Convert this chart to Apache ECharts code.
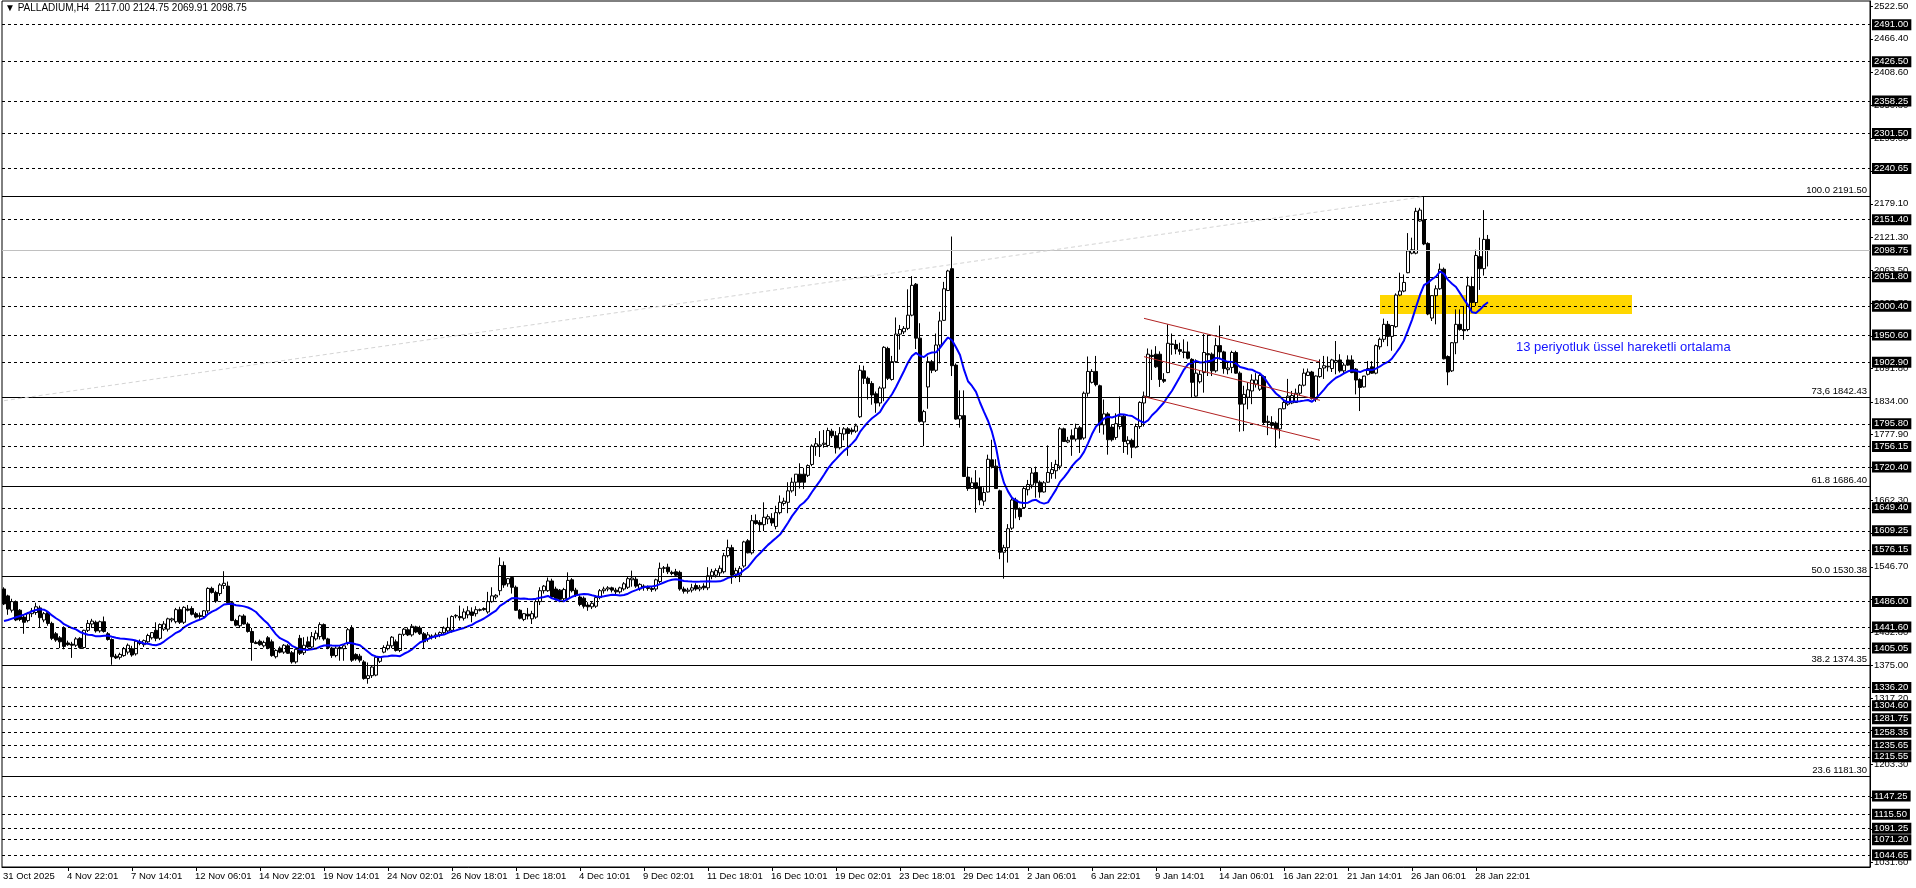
<!DOCTYPE html>
<html><head><meta charset="utf-8">
<script src="https://cdn.jsdelivr.net/npm/echarts@6/dist/echarts.min.js"></script>
<style>html,body{margin:0;padding:0;background:#fff;overflow:hidden}#c{width:1916px;height:888px}</style>
</head><body><div id="c"></div>
<script>
// ---- DATA (PALLADIUM, H4) ----
const opens=[
1508,1496,1471,1486,1471,1459,1453,1465,1467,1475,1454,1467,1448,1430,1423,1440,1414,1412,1410,1422,
1406,1436,1447,1450,1435,1451,1430,1420,1391,1389,1392,1398,1404,1395,1413,1411,1416,1423,1436,1422,
1438,1438,1454,1451,1472,1450,1473,1474,1465,1462,1460,1470,1509,1502,1500,1514,1513,1484,1453,1444,
1461,1447,1434,1415,1417,1409,1423,1416,1390,1405,1398,1409,1397,1381,1422,
1397,1416,1407,1421,1425,1446,1421,1405,1392,1406,1404,1413,1440,1394,1391,1381,1352,1357,1358,1382,
1398,1404,1409,1416,1401,1429,1437,1428,1442,1440,1430,1421,1425,1425,1428,1432,1435,1436,1461,1460,
1457,1463,1468,1465,1472,1474,1468,1486,1494,1505,1549,1517,1528,1511,1471,1455,1464,1456,1459,1486,
1505,1505,1522,1508,1506,1491,1491,1524,1506,1494,1492,1480,1477,1478,1493,
1505,1508,1510,1506,1503,1508,1511,1524,1525,1508,1513,1511,1509,1508,1521,1544,1546,1537,1538,1537,
1508,1504,1506,1514,1508,1513,1510,1531,1532,1536,1538,1566,1580,1534,1532,1548,1592,1571,1627,1624,
1620,1630,1631,1617,1641,1657,1659,1679,1694,1708,1708,1706,1725,1756,1757,1760,1758,1783,1775,1754,
1778,1787,1785,1783,1808,1888,1875,1866,1848,1832,1858,1927,1873,1904,1952,
1956,1962,1985,2039,1945,1799,1860,1904,1889,1933,1976,2028,2066,1898,1804,1810,1703,1683,1693,1686,
1661,1677,1733,1722,1679,1572,1580,1614,1663,1648,1650,1681,1689,1711,1694,1677,1694,1709,1714,1722,
1787,1764,1775,1769,1789,1771,1849,1868,1887,1862,1794,1813,1790,1772,1791,1809,1761,1767,1755,1791,
1832,1843,1915,1917,1917,1873,1885,1935,1934,1925,1921,1921,1908,1844,1869,
1885,1918,1917,1888,1932,1921,1890,1894,1920,1884,1830,1842,1853,1865,1856,1878,1798,1798,1797,1787,
1822,1830,1832,1833,1849,1863,1880,1886,1840,1878,1893,1895,1892,1903,1907,1888,1907,1907,1891,1873,
1860,1882,1895,1884,1930,1943,1969,1948,1965,2020,2027,2059,2093,2093,2149,2151,2110,1980,2019,2031,
2065,1913,1888,1937,1969,1960,1960,2035,2007,2087,2066,2117];
const highs=[
1511,1498,1491,1488,1473,1463,1468,1475,1484,1479,1468,1469,1451,1433,1426,1443,1418,1416,1424,1424,
1437,1454,1456,1453,1453,1460,1433,1422,1395,1397,1407,1413,1409,1418,1420,1420,1430,1433,1450,1448,
1452,1458,1458,1475,1477,1478,1480,1478,1468,1467,1471,1511,1512,1505,1518,1539,1521,1487,1456,1463,
1464,1450,1440,1418,1420,1418,1426,1420,1403,1408,1412,1412,1400,1405,1428,
1424,1425,1433,1436,1450,1448,1423,1407,1408,1409,1412,1440,1445,1396,1395,1384,1380,1375,1390,1391,
1410,1417,1426,1420,1430,1440,1441,1447,1444,1444,1433,1433,1429,1432,1434,1443,1458,1462,1464,1479,
1474,1478,1476,1478,1474,1476,1503,1511,1499,1563,1556,1527,1530,1514,1473,1466,1475,1470,1490,1511,
1515,1528,1526,1512,1508,1510,1537,1527,1510,1497,1495,1485,1486,1497,1508,
1512,1513,1512,1510,1512,1520,1530,1540,1529,1518,1516,1514,1512,1526,1554,1548,1552,1540,1543,1540,
1512,1510,1517,1518,1515,1518,1546,1543,1544,1549,1571,1594,1585,1545,1548,1592,1595,1637,1638,1628,
1659,1638,1640,1653,1671,1667,1694,1702,1708,1727,1719,1725,1760,1771,1783,1785,1789,1787,1783,1790,
1790,1790,1789,1796,1898,1897,1878,1870,1852,1861,1931,1930,1914,1981,1968,
1966,2030,2053,2041,1971,1820,1913,1907,1953,1991,2043,2064,2122,1901,1854,1854,1721,1702,1715,1702,
1685,1742,1768,1734,1681,1585,1621,1666,1667,1650,1686,1698,1719,1721,1697,1696,1758,1729,1733,1790,
1789,1773,1786,1796,1792,1852,1913,1891,1914,1864,1838,1816,1795,1814,1843,1812,1774,1770,1796,1835,
1852,1927,1925,1931,1922,1884,1969,1953,1942,1937,1943,1939,1910,1908,1889,
1952,1951,1920,1945,1967,1923,1902,1923,1923,1887,1862,1868,1882,1884,1884,1880,1810,1809,1800,1822,
1838,1874,1853,1857,1865,1892,1892,1888,1880,1908,1914,1913,1909,1940,1917,1902,1915,1915,1893,1875,
1878,1905,1905,1934,1946,1979,1975,1968,2023,2059,2056,2128,2120,2172,2172,2191.5,2112,2020,2037,2075,
2068,1915,1938,1995,1995,2001,2052,2052,2099,2120,2168,2124.75];
const lows=[
1480,1463,1467,1452,1452,1430,1450,1459,1463,1440,1450,1444,1419,1416,1405,1403,1409,1388,1407,1404,
1404,1433,1440,1432,1432,1432,1418,1376,1386,1385,1390,1394,1390,1392,1410,1407,1412,1420,1417,1419,
1435,1434,1450,1448,1447,1447,1469,1462,1457,1456,1456,1466,1500,1484,1496,1508,1481,1452,1443,1440,
1446,1432,1383,1412,1409,1406,1403,1390,1387,1396,1395,1395,1378,1378,1393,
1393,1405,1404,1418,1420,1418,1403,1388,1389,1383,1383,1410,1381,1383,1380,1350,1343,1353,1356,1379,
1396,1401,1405,1399,1398,1426,1426,1425,1431,1428,1404,1416,1420,1421,1424,1429,1430,1432,1457,1453,
1453,1457,1450,1460,1469,1470,1465,1484,1490,1497,1510,1512,1500,1470,1455,1452,1455,1447,1456,1480,
1500,1503,1492,1488,1485,1488,1488,1502,1494,1478,1474,1470,1473,1475,1490,
1500,1504,1502,1498,1500,1505,1508,1512,1510,1505,1505,1505,1503,1504,1518,1536,1534,1532,1530,1505,
1500,1500,1502,1505,1504,1506,1506,1525,1528,1530,1535,1563,1517,1527,1520,1545,1570,1568,1620,1609,
1609,1621,1618,1612,1638,1653,1640,1676,1670,1683,1682,1703,1722,1740,1738,1754,1755,1771,1744,1751,
1767,1740,1777,1780,1806,1865,1838,1829,1815,1826,1835,1872,1871,1902,1925,
1952,1959,1983,1926,1798,1757,1822,1884,1886,1901,1975,2027,1879,1803,1789,1703,1679,1682,1641,1654,
1653,1676,1718,1683,1560,1526,1554,1611,1631,1628,1648,1671,1683,1667,1667,1676,1693,1700,1700,1716,
1764,1762,1740,1765,1745,1768,1843,1866,1861,1780,1777,1742,1765,1768,1786,1745,1742,1736,1753,1787,
1791,1842,1872,1893,1860,1867,1884,1916,1917,1916,1910,1908,1842,1843,1866,
1850,1879,1879,1885,1908,1883,1882,1884,1883,1782,1783,1821,1830,1859,1853,1795,1776,1787,1754,1770,
1821,1827,1830,1832,1845,1861,1879,1838,1834,1876,1874,1887,1886,1882,1885,1884,1897,1884,1847,1818,
1859,1880,1883,1882,1925,1938,1931,1923,1963,2018,2025,2058,2091,2091,2148,2107,1985,1975,1969,2029,
1908,1863,1886,1917,1958,1942,1957,1994,2001,2029,2054,2069.91];
const closes=[
1482,1473,1486,1454,1455,1450,1465,1470,1477,1458,1465,1448,1422,1419,1416,1408,1411,1410,1421,1406,
1436,1448,1452,1435,1451,1434,1420,1390,1388,1394,1404,1410,1393,1417,1416,1418,1427,1432,1422,1446,
1447,1456,1456,1472,1450,1476,1471,1464,1459,1460,1470,1509,1502,1487,1515,1518,1484,1453,1445,1461,
1447,1434,1415,1413,1411,1415,1405,1392,1401,1398,1410,1396,1381,1403,1396,
1410,1407,1425,1431,1446,1421,1406,1392,1405,1404,1409,1437,1384,1386,1384,1352,1357,1372,1389,1389,
1406,1410,1424,1401,1429,1438,1428,1443,1433,1430,1416,1428,1426,1428,1432,1440,1441,1460,1462,1458,
1468,1470,1462,1472,1471,1472,1486,1496,1497,1549,1515,1526,1511,1471,1457,1465,1461,1465,1486,1505,
1513,1522,1494,1491,1490,1507,1523,1505,1497,1481,1478,1477,1483,1493,1505,
1508,1510,1506,1503,1510,1517,1526,1527,1513,1516,1511,1509,1507,1524,1544,1545,1538,1535,1532,1508,
1504,1506,1510,1508,1511,1510,1531,1538,1540,1544,1566,1580,1532,1540,1544,1590,1571,1627,1622,1620,
1633,1634,1623,1641,1659,1661,1679,1694,1708,1694,1694,1723,1757,1761,1759,1762,1784,1775,1754,1779,
1787,1779,1782,1792,1889,1875,1866,1846,1832,1858,1929,1875,1904,1952,1960,
1962,1985,2037,1945,1800,1817,1904,1889,1933,1975,2031,2062,1897,1804,1810,1704,1683,1693,1683,1663,
1676,1734,1721,1683,1572,1580,1613,1663,1647,1634,1683,1690,1710,1693,1677,1693,1711,1716,1725,1787,
1765,1767,1769,1788,1769,1849,1887,1887,1864,1794,1813,1768,1768,1796,1809,1765,1767,1755,1791,1833,
1844,1917,1913,1895,1873,1870,1936,1934,1926,1922,1920,1910,1868,1884,1882,
1920,1916,1888,1932,1921,1892,1893,1920,1884,1830,1847,1855,1872,1872,1880,1798,1800,1793,1787,1822,
1833,1844,1845,1849,1863,1884,1886,1840,1879,1892,1897,1896,1907,1906,1888,1898,1898,1885,1872,1859,
1879,1892,1884,1932,1943,1969,1948,1967,2020,2027,2042,2097,2099,2166,2168,2109,1987,2019,2031,2065,
1909,1886,1937,1969,1960,1958,2036,2007,2089,2066,2117,2098.75];

const tickBars=[0,16,32,48,64,80,96,112,128,144,160,176,192,208,224,240,256,272,288,304,320,336,352,368];
const tickLabels=['31 Oct 2025','4 Nov 22:01','7 Nov 14:01','12 Nov 06:01','14 Nov 22:01','19 Nov 14:01',
'24 Nov 02:01','26 Nov 18:01','1 Dec 18:01','4 Dec 10:01','9 Dec 02:01','11 Dec 18:01','16 Dec 10:01',
'19 Dec 02:01','23 Dec 18:01','29 Dec 14:01','2 Jan 06:01','6 Jan 22:01','9 Jan 14:01','14 Jan 06:01',
'16 Jan 22:01','21 Jan 14:01','26 Jan 06:01','28 Jan 22:01'];
const yTickValues=[2522.50,2466.40,2408.60,2350.80,2293.00,2235.20,2179.10,2121.30,2063.50,2005.70,1947.90,
1891.80,1834.00,1777.90,1720.10,1662.30,1604.50,1546.70,1490.60,1432.80,1375.00,1317.20,1261.10,1203.30,
1145.50,1089.40,1031.60];
const hLevels=[2491.00,2426.50,2358.25,2301.50,2240.65,2151.40,2051.80,2000.40,1950.60,1902.90,1795.80,
1756.15,1720.40,1649.40,1609.25,1576.15,1486.00,1441.60,1405.05,1336.20,1304.60,1281.75,1258.35,1235.65,
1215.55,1147.25,1115.50,1091.25,1071.20,1044.65];
const fibLevels=[2191.50,1842.43,1686.40,1530.38,1374.35,1181.30];
const fibNames=['100.0','73,6','61.8','50.0','38.2','23.6'];
const bidPrice=2098.75;
const titleText='\u25BC PALLADIUM,H4  2117.00 2124.75 2069.91 2098.75';
const trendBars=[0,355], trendPrices=[1836,2191.5];
const channelBars=[285,329];
const channelUpper=[1979.5,1903.5], channelMid=[1912.7,1836.7], channelLow=[1843,1767];
const zoneBars=[344,407], zonePrices=[2020,1987];
// 13-period moving average; its first 12 values (window reaching before the first bar)
const maPeriod=13;
const maHead=[1452.4,1454.1,1456.4,1458.7,1461.0,1463.3,1466.2,1469.1,1471.4,1472.6,1472.0,1468.0];
const noteText='13 periyotluk üssel hareketli ortalama';
const noteBar=378, notePrice=1929;
const Y_MIN=1023.7, Y_MAX=2532.3, SLOTS=467;

// ---- BUILD ----
const cats=[]; for(let i=0;i<SLOTS;i++) cats.push(String(i));
const labelMap={}; tickBars.forEach((b,k)=>labelMap[b]=tickLabels[k]);
const candles=opens.map((o,i)=>[o,closes[i],lows[i],highs[i]]);
const ma=closes.map((c,i)=>{
  if(i<maPeriod-1) return maHead[i];
  let s=0; for(let j=i-maPeriod+1;j<=i;j++) s+=closes[j];
  return +(s/maPeriod).toFixed(2);
});

const FONT='Liberation Sans';
const boxLabel=(v)=>({show:true,position:'end',distance:2,formatter:v.toFixed(2),backgroundColor:'#000',color:'#fff',
  padding:[1,3,0,2],fontSize:9.5,fontFamily:FONT});
const ml=[];
hLevels.forEach(v=>ml.push({yAxis:v,lineStyle:{type:[3,3],color:'#000',width:1},label:boxLabel(v)}));
ml.push({yAxis:bidPrice,lineStyle:{type:'solid',color:'#c0c0c0',width:1},label:boxLabel(bidPrice)});
fibLevels.forEach((v,i)=>ml.push({yAxis:v,lineStyle:{type:'solid',color:'#000',width:1},
  label:{show:true,position:'insideEndTop',distance:[3,1],formatter:fibNames[i]+' '+v.toFixed(2),color:'#000',
  fontSize:9.5,fontFamily:FONT}}));
ml.push([{coord:[String(trendBars[0]),trendPrices[0]],lineStyle:{type:[4,3],color:'#d4d4d4',width:1},label:{show:false}},
         {coord:[String(trendBars[1]),trendPrices[1]]}]);
[channelUpper,channelMid,channelLow].forEach(p=>ml.push([
  {coord:[String(channelBars[0]),p[0]],lineStyle:{type:'solid',color:'#b22222',width:1},label:{show:false}},
  {coord:[String(channelBars[1]),p[1]]}]));

const chart=echarts.init(document.getElementById('c'),null,{renderer:'canvas'});
chart.setOption({
  animation:false,
  backgroundColor:'#ffffff',
  textStyle:{fontFamily:FONT},
  title:{text:titleText,left:3,top:0,padding:[3,2],textStyle:{fontSize:10,fontWeight:'normal',color:'#000',fontFamily:FONT}},
  grid:{left:2,right:46,top:1,bottom:21,show:true,borderColor:'#000',borderWidth:1},
  xAxis:{type:'category',data:cats,boundaryGap:true,
    axisLine:{show:true,lineStyle:{color:'#000',width:1}},
    axisTick:{show:true,alignWithLabel:true,interval:(i)=>labelMap[i]!==undefined && i>0,length:4,lineStyle:{color:'#000'}},
    axisLabel:{interval:(i)=>labelMap[i]!==undefined,formatter:(v,i)=>labelMap[+v]||'',align:'left',margin:4,
      color:'#000',fontSize:9.5,fontFamily:FONT,padding:[0,0,0,-1]},
    splitLine:{show:false}},
  yAxis:{type:'value',position:'right',min:Y_MIN,max:Y_MAX,scale:true,z:0,
    axisLine:{show:true,lineStyle:{color:'#000',width:1}},
    axisTick:{show:true,length:3,customValues:yTickValues,lineStyle:{color:'#000'}},
    axisLabel:{show:true,customValues:yTickValues,formatter:(v)=>v.toFixed(2),margin:4,color:'#000',fontSize:9.5,fontFamily:FONT},
    splitLine:{show:false}},
  series:[
    {type:'line',data:[],z:1,silent:true,
     markArea:{silent:true,itemStyle:{color:'#ffd700'},data:[[{coord:[String(zoneBars[0]),zonePrices[0]]},{coord:[String(zoneBars[1]),zonePrices[1]]}]]}},
    {type:'candlestick',data:candles,z:3,barWidth:3,
     itemStyle:{color:'#ffffff',color0:'#000000',borderColor:'#000000',borderColor0:'#000000',borderWidth:1},
     markLine:{silent:true,symbol:['none','none'],animation:false,z:5,data:ml}},
    {type:'line',data:ma,z:4,showSymbol:false,symbol:'none',smooth:false,lineStyle:{color:'#0000ff',width:2},
     markPoint:{silent:true,symbol:'circle',symbolSize:0,
       data:[{coord:[String(noteBar),notePrice],label:{show:true,position:'inside',align:'left',formatter:noteText,
       color:'#1414ff',fontSize:13,fontFamily:FONT}}]}}
  ]
});
</script></body></html>
